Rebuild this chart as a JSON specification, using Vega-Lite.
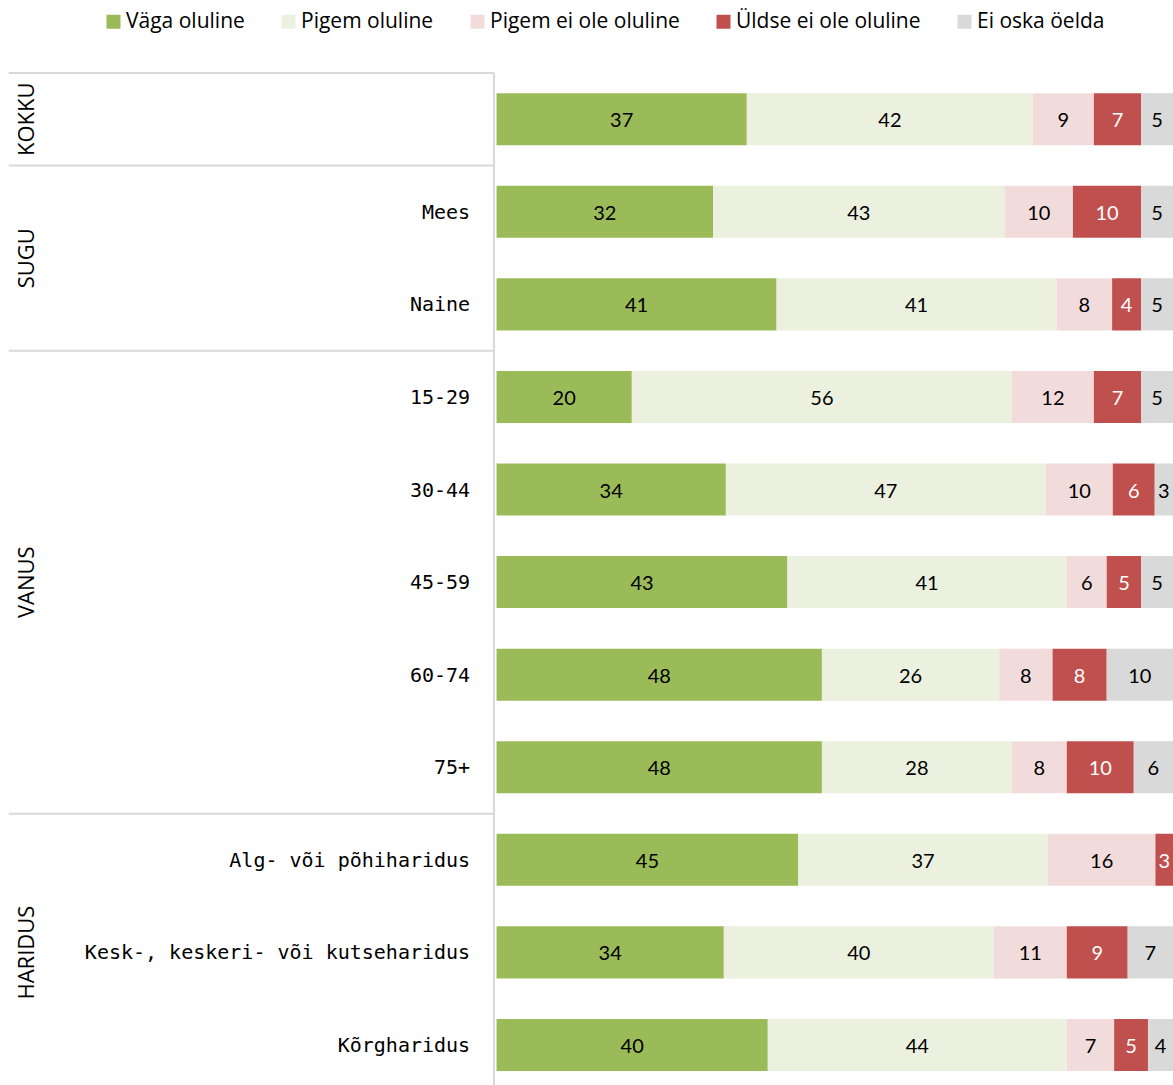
{
  "$schema": "https://vega.github.io/schema/vega-lite/v6.json",
  "width": 1173,
  "height": 1012,
  "autosize": {"type": "none"},
  "padding": {"top": 73, "left": 0, "right": 0, "bottom": 0},
  "config": {"view": {"stroke": null}, "font": "Lato"},
  "datasets": {
    "bars": [
      {"row": "KOKKU", "resp": "Väga oluline", "k": 0, "value": 37.0},
      {"row": "KOKKU", "resp": "Pigem oluline", "k": 1, "value": 42.3},
      {"row": "KOKKU", "resp": "Pigem ei ole oluline", "k": 2, "value": 9.0},
      {"row": "KOKKU", "resp": "Üldse ei ole oluline", "k": 3, "value": 7.0},
      {"row": "KOKKU", "resp": "Ei oska öelda", "k": 4, "value": 4.7},
      {"row": "Mees", "resp": "Väga oluline", "k": 0, "value": 32.0},
      {"row": "Mees", "resp": "Pigem oluline", "k": 1, "value": 43.1},
      {"row": "Mees", "resp": "Pigem ei ole oluline", "k": 2, "value": 10.1},
      {"row": "Mees", "resp": "Üldse ei ole oluline", "k": 3, "value": 10.1},
      {"row": "Mees", "resp": "Ei oska öelda", "k": 4, "value": 4.7},
      {"row": "Naine", "resp": "Väga oluline", "k": 0, "value": 41.4},
      {"row": "Naine", "resp": "Pigem oluline", "k": 1, "value": 41.4},
      {"row": "Naine", "resp": "Pigem ei ole oluline", "k": 2, "value": 8.2},
      {"row": "Naine", "resp": "Üldse ei ole oluline", "k": 3, "value": 4.3},
      {"row": "Naine", "resp": "Ei oska öelda", "k": 4, "value": 4.7},
      {"row": "15-29", "resp": "Väga oluline", "k": 0, "value": 20.0},
      {"row": "15-29", "resp": "Pigem oluline", "k": 1, "value": 56.2},
      {"row": "15-29", "resp": "Pigem ei ole oluline", "k": 2, "value": 12.1},
      {"row": "15-29", "resp": "Üldse ei ole oluline", "k": 3, "value": 7.0},
      {"row": "15-29", "resp": "Ei oska öelda", "k": 4, "value": 4.7},
      {"row": "30-44", "resp": "Väga oluline", "k": 0, "value": 33.9},
      {"row": "30-44", "resp": "Pigem oluline", "k": 1, "value": 47.3},
      {"row": "30-44", "resp": "Pigem ei ole oluline", "k": 2, "value": 9.9},
      {"row": "30-44", "resp": "Üldse ei ole oluline", "k": 3, "value": 6.2},
      {"row": "30-44", "resp": "Ei oska öelda", "k": 4, "value": 2.7},
      {"row": "45-59", "resp": "Väga oluline", "k": 0, "value": 43.0},
      {"row": "45-59", "resp": "Pigem oluline", "k": 1, "value": 41.3},
      {"row": "45-59", "resp": "Pigem ei ole oluline", "k": 2, "value": 5.9},
      {"row": "45-59", "resp": "Üldse ei ole oluline", "k": 3, "value": 5.1},
      {"row": "45-59", "resp": "Ei oska öelda", "k": 4, "value": 4.7},
      {"row": "60-74", "resp": "Väga oluline", "k": 0, "value": 48.1},
      {"row": "60-74", "resp": "Pigem oluline", "k": 1, "value": 26.2},
      {"row": "60-74", "resp": "Pigem ei ole oluline", "k": 2, "value": 7.9},
      {"row": "60-74", "resp": "Üldse ei ole oluline", "k": 3, "value": 8.0},
      {"row": "60-74", "resp": "Ei oska öelda", "k": 4, "value": 9.8},
      {"row": "75+", "resp": "Väga oluline", "k": 0, "value": 48.1},
      {"row": "75+", "resp": "Pigem oluline", "k": 1, "value": 28.1},
      {"row": "75+", "resp": "Pigem ei ole oluline", "k": 2, "value": 8.1},
      {"row": "75+", "resp": "Üldse ei ole oluline", "k": 3, "value": 9.9},
      {"row": "75+", "resp": "Ei oska öelda", "k": 4, "value": 5.8},
      {"row": "Alg- või põhiharidus", "resp": "Väga oluline", "k": 0, "value": 44.6},
      {"row": "Alg- või põhiharidus", "resp": "Pigem oluline", "k": 1, "value": 36.9},
      {"row": "Alg- või põhiharidus", "resp": "Pigem ei ole oluline", "k": 2, "value": 15.9},
      {"row": "Alg- või põhiharidus", "resp": "Üldse ei ole oluline", "k": 3, "value": 2.6},
      {"row": "Kesk-, keskeri- või kutseharidus", "resp": "Väga oluline", "k": 0, "value": 33.6},
      {"row": "Kesk-, keskeri- või kutseharidus", "resp": "Pigem oluline", "k": 1, "value": 39.9},
      {"row": "Kesk-, keskeri- või kutseharidus", "resp": "Pigem ei ole oluline", "k": 2, "value": 10.8},
      {"row": "Kesk-, keskeri- või kutseharidus", "resp": "Üldse ei ole oluline", "k": 3, "value": 9.0},
      {"row": "Kesk-, keskeri- või kutseharidus", "resp": "Ei oska öelda", "k": 4, "value": 6.7},
      {"row": "Kõrgharidus", "resp": "Väga oluline", "k": 0, "value": 40.1},
      {"row": "Kõrgharidus", "resp": "Pigem oluline", "k": 1, "value": 44.2},
      {"row": "Kõrgharidus", "resp": "Pigem ei ole oluline", "k": 2, "value": 7.0},
      {"row": "Kõrgharidus", "resp": "Üldse ei ole oluline", "k": 3, "value": 5.0},
      {"row": "Kõrgharidus", "resp": "Ei oska öelda", "k": 4, "value": 3.7}
    ],
    "rows": [
      {"row": "KOKKU", "label": ""},
      {"row": "Mees", "label": "Mees"},
      {"row": "Naine", "label": "Naine"},
      {"row": "15-29", "label": "15-29"},
      {"row": "30-44", "label": "30-44"},
      {"row": "45-59", "label": "45-59"},
      {"row": "60-74", "label": "60-74"},
      {"row": "75+", "label": "75+"},
      {"row": "Alg- või põhiharidus", "label": "Alg- või põhiharidus"},
      {"row": "Kesk-, keskeri- või kutseharidus", "label": "Kesk-, keskeri- või kutseharidus"},
      {"row": "Kõrgharidus", "label": "Kõrgharidus"}
    ],
    "groups": [
      {"group": "KOKKU", "pos": 0},
      {"group": "SUGU", "pos": 1.5},
      {"group": "VANUS", "pos": 5},
      {"group": "HARIDUS", "pos": 9}
    ],
    "bounds": [
      {"pos": -0.5},
      {"pos": 0.5},
      {"pos": 2.5},
      {"pos": 7.5}
    ]
  },
  "resolve": {"scale": {"y": "independent"}},
  "layer": [
    {
      "layer": [
        {
          "data": {"name": "bars"},
          "mark": {"type": "bar", "clip": true},
          "encoding": {
            "y": {"field": "row", "type": "nominal", "axis": null,
              "scale": {"domain": ["KOKKU", "Mees", "Naine", "15-29", "30-44", "45-59", "60-74", "75+", "Alg- või põhiharidus", "Kesk-, keskeri- või kutseharidus", "Kõrgharidus"], "paddingInner": 0.438, "paddingOuter": 0.185, "align": 0.59, "round": false}},
            "x": {"field": "value", "type": "quantitative", "stack": "zero", "axis": null,
              "scale": {"domain": [-73.4, 100], "nice": false, "zero": false}},
            "order": {"field": "k", "type": "quantitative"},
            "color": {"field": "resp", "type": "nominal",
              "scale": {"domain": ["Väga oluline", "Pigem oluline", "Pigem ei ole oluline", "Üldse ei ole oluline", "Ei oska öelda"],
                "range": ["#9BBB59", "#EBF1DE", "#F2DCDB", "#C0504D", "#D9D9D9"]},
              "legend": {"title": null, "orient": "none", "legendX": 103, "legendY": -62, "direction": "horizontal",
                "symbolType": "square", "symbolSize": 196, "symbolStrokeWidth": 0, "labelFontSize": 21, "labelFont": "Open Sans",
                "labelColor": "#000000", "columnPadding": 33, "labelOffset": 2, "labelLimit": 400}}
          }
        },
        {
          "data": {"name": "bars"},
          "mark": {"type": "text", "fontSize": 20, "font": "Lato", "align": "center", "baseline": "middle", "dy": 2},
          "encoding": {
            "y": {"field": "row", "type": "nominal", "axis": null,
              "scale": {"domain": ["KOKKU", "Mees", "Naine", "15-29", "30-44", "45-59", "60-74", "75+", "Alg- või põhiharidus", "Kesk-, keskeri- või kutseharidus", "Kõrgharidus"], "paddingInner": 0.438, "paddingOuter": 0.185, "align": 0.59, "round": false}},
            "x": {"field": "value", "type": "quantitative", "stack": "zero", "bandPosition": 0.5, "axis": null,
              "scale": {"domain": [-73.4, 100], "nice": false, "zero": false}},
            "order": {"field": "k", "type": "quantitative"},
            "detail": {"field": "resp", "type": "nominal"},
            "text": {"field": "value", "type": "quantitative", "format": ".0f"},
            "color": {"condition": {"test": "datum.resp === 'Üldse ei ole oluline'", "value": "#FFFFFF"}, "value": "#000000"}
          }
        },
        {
          "data": {"name": "rows"},
          "mark": {"type": "text", "fontSize": 20, "font": "DejaVu Sans Mono", "align": "right", "baseline": "middle", "color": "#000000", "dy": 1},
          "encoding": {
            "y": {"field": "row", "type": "nominal", "axis": null,
              "scale": {"domain": ["KOKKU", "Mees", "Naine", "15-29", "30-44", "45-59", "60-74", "75+", "Alg- või põhiharidus", "Kesk-, keskeri- või kutseharidus", "Kõrgharidus"], "paddingInner": 0.438, "paddingOuter": 0.185, "align": 0.59, "round": false}},
            "x": {"datum": -3.9, "type": "quantitative", "scale": {"domain": [-73.4, 100], "nice": false, "zero": false}},
            "text": {"field": "label"}
          }
        }
      ]
    },
    {
      "layer": [
        {
          "data": {"name": "bounds"},
          "mark": {"type": "rule", "color": "#D9D9D9", "strokeWidth": 2},
          "encoding": {
            "y": {"field": "pos", "type": "quantitative", "axis": null,
              "scale": {"domain": [-0.5, 10.43], "reverse": true, "nice": false, "zero": false}},
            "x": {"datum": -72.1, "type": "quantitative", "scale": {"domain": [-73.4, 100], "nice": false, "zero": false}},
            "x2": {"datum": -0.37}
          }
        },
        {
          "data": {"values": [{"top": -0.5, "bottom": 10.43}]},
          "mark": {"type": "rule", "color": "#D9D9D9", "strokeWidth": 2},
          "encoding": {
            "y": {"field": "top", "type": "quantitative", "axis": null,
              "scale": {"domain": [-0.5, 10.43], "reverse": true, "nice": false, "zero": false}},
            "y2": {"field": "bottom"},
            "x": {"datum": -0.37, "type": "quantitative", "scale": {"domain": [-73.4, 100], "nice": false, "zero": false}}
          }
        },
        {
          "data": {"name": "groups"},
          "mark": {"type": "text", "fontSize": 22, "font": "Open Sans", "angle": 270, "align": "center", "baseline": "middle", "color": "#000000"},
          "encoding": {
            "y": {"field": "pos", "type": "quantitative", "axis": null,
              "scale": {"domain": [-0.5, 10.43], "reverse": true, "nice": false, "zero": false}},
            "x": {"datum": -69.4, "type": "quantitative", "scale": {"domain": [-73.4, 100], "nice": false, "zero": false}},
            "text": {"field": "group"}
          }
        }
      ]
    }
  ]
}
